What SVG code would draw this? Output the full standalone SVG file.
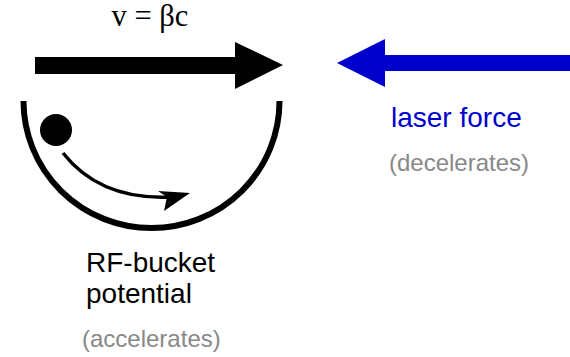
<svg xmlns="http://www.w3.org/2000/svg" width="570" height="357" viewBox="0 0 570 357">
<style>
.sans{font-family:"Liberation Sans",Arial,sans-serif}
.grey{fill:#888888}
</style>
<rect width="570" height="357" fill="#ffffff"/>
<g id="velocity">
<polygon points="35,57 235,57 235,42 283,65 235,89 235,74 35,74" fill="#000000"/>
<text x="150" y="26" text-anchor="middle" font-family="'Liberation Serif','Times New Roman',serif" font-size="30.5" fill="#000">v = βc</text>
</g>
<g id="bucket">
<path d="M23.5,101 A128,127 0 0 0 279.5,101" fill="none" stroke="#000" stroke-width="6"/>
<circle cx="56" cy="130" r="16" fill="#000"/>
<text class="sans" x="86" y="272" font-size="28" fill="#000">RF-bucket</text>
<text class="sans" x="86" y="303" font-size="28" fill="#000">potential</text>
<text class="sans grey" x="82" y="347" font-size="24">(accelerates)</text>
</g>
<g id="connectors">
<path d="M63,153 Q100,200 170,197" fill="none" stroke="#000" stroke-width="3.5"/>
<polygon points="190,193 158,191 167,197 164,211" fill="#000"/>
</g>
<g id="laser">
<polygon points="570,55 385,55 385,39 337,63 385,87 385,71 570,71" fill="#0000CC"/>
<text class="sans" x="391" y="127" font-size="28" fill="#0000CC">laser force</text>
<text class="sans grey" x="389" y="171" font-size="24">(decelerates)</text>
</g>
</svg>
